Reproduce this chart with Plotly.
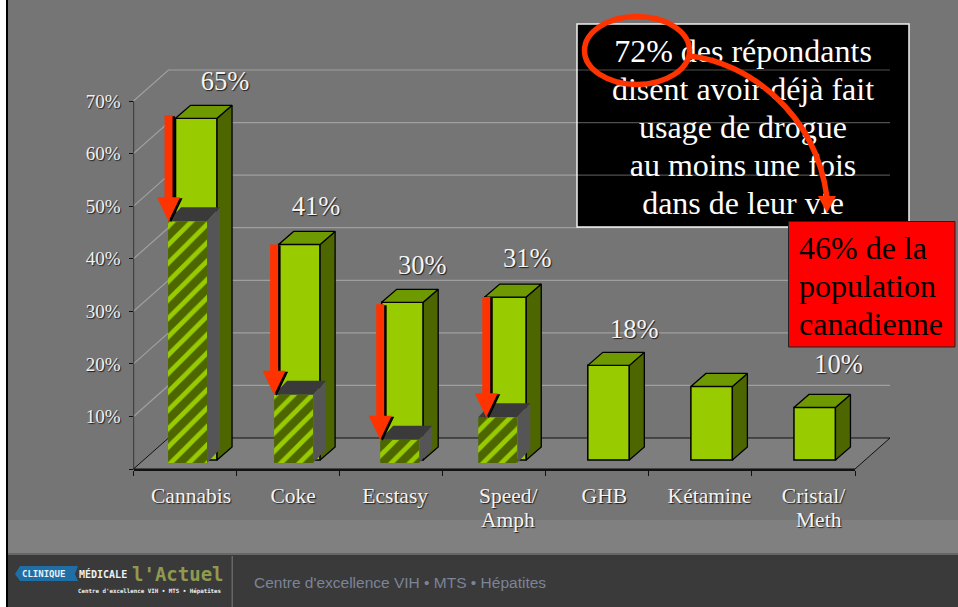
import plotly.graph_objects as go

# ---- data ----
categories = ["Cannabis", "Coke", "Ecstasy", "Speed/Amph", "GHB", "Kétamine", "Cristal/Meth"]
tick_text = ["Cannabis", "Coke", "Ecstasy", "Speed/", "GHB", "Kétamine", "Cristal/"]
second_lines = ["Amph", "Meth"]
lifetime_use = [65, 41, 30, 31, 18, 14, 10]
population_use = [46, 13, 4.4, 8.7]
value_labels = ["65%", "41%", "30%", "31%", "18%", None, "10%"]
y_ticks = [0, 10, 20, 30, 40, 50, 60, 70]
y_tick_text = ["", "10%", "20%", "30%", "40%", "50%", "60%", "70%"]

# ---- layout geometry (pixels of the 958x607 page) ----
W, H = 958, 607
AX_L, AX_R, AX_B, AX_T = 133.5, 855.0, 469.0, 101.0
UX = (AX_R - AX_L) / 7
UY = (AX_B - AX_T) / 70
Y_TOP = 85  # the value axis runs on invisibly above 70 so the top label stays in range
def X(p): return p / W
def Y(p): return 1 - p / H
def dx(p): return p / UX
def dy(p): return p / UY

SERIF = "Liberation Serif"
SHADOW = "1px 1px 1px rgba(0,0,0,0.75)"
RED = "#ff3300"
n = len(categories)
xs = list(range(n))

fig = go.Figure()

def poly(xv, yv, fill, line=None, lw=1.2):
    fig.add_trace(go.Scatter(
        x=xv, y=yv, mode="lines", fill="toself", fillcolor=fill, hoverinfo="skip",
        line=dict(color=line or fill, width=lw if line else 0), showlegend=False, cliponaxis=False))

XL, XR = -0.5, 6.5

# green bars
G_BASE = dy(9)
G_OFF, G_W = dx(-9.5), dx(41.5)
G_DX, G_DY = dx(15), dy(13)
fig.add_trace(go.Bar(
    x=xs, y=lifetime_use, base=G_BASE, offset=G_OFF, width=G_W, name="Répondants",
    marker=dict(color="#99cc00", line=dict(color="#000000", width=1.5)),
    hoverinfo="skip", showlegend=False, cliponaxis=False))

# hatched bars (population)
H_BASE = dy(6)
H_OFFS_PX = [-17, -14, -11, -16]
H_W = dx(39)
fig.add_trace(go.Bar(
    x=xs[:4], y=population_use, base=H_BASE, offset=[dx(o) for o in H_OFFS_PX], width=H_W,
    name="Population",
    marker=dict(color="#4d6600", line=dict(width=0),
                pattern=dict(shape="/", size=13, solidity=0.36, fgcolor="#99cc00", bgcolor="#4d6600", fillmode="replace")),
    hoverinfo="skip", showlegend=False, cliponaxis=False))

# value axis line, stopping at the top tick
fig.add_trace(go.Scatter(x=[XL, XL], y=[y_ticks[0], y_ticks[-1]], mode="lines",
                         line=dict(color="#111111", width=1.2), hoverinfo="skip",
                         showlegend=False, cliponaxis=False))

# 3-D faces of the green bars
for i, v in zip(xs, lifetime_use):
    l, r = i + G_OFF, i + G_OFF + G_W
    b, t = G_BASE, G_BASE + v
    poly([r, r + G_DX, r + G_DX, r, r], [b, b + G_DY, t + G_DY, t, b], "#4d6600", "#000000", 1.3)
    poly([l, l + G_DX, r + G_DX, r, l], [t, t + G_DY, t + G_DY, t, t], "#6f9900", "#000000", 1.3)

# 3-D faces of the hatched bars
H_DX, H_DY = dx(13), dy(14)
for i, v, o in zip(xs, population_use, H_OFFS_PX):
    l, r = i + dx(o), i + dx(o) + H_W
    b, t = H_BASE, H_BASE + v
    poly([r, r + H_DX, r + H_DX, r, r], [b, b + H_DY, t + H_DY, t, b], "#555555")
    poly([l, l + H_DX, r + H_DX, r, l], [t, t + H_DY, t + H_DY, t, t], "#3a3a3a")

# red arrows: from green top to hatched top
ARROW_OFF_PX = [-16.5, -14, -11, -8]
ARROW_TOP_PX = [3, 0, -2, 0]
HEAD_H, HEAD_W, SHAFT_W = dy(24), dx(11.5), dx(4)
for i, top, tip, o, tp in zip(xs, lifetime_use, population_use, ARROW_OFF_PX, ARROW_TOP_PX):
    c = i + dx(o)
    t, b, h = G_BASE + top + dy(tp), H_BASE + tip, H_BASE + tip + HEAD_H
    sx, sy = dx(2.5), dy(-1)
    ax = [c - SHAFT_W, c + SHAFT_W, c + SHAFT_W, c + HEAD_W, c, c - HEAD_W, c - SHAFT_W, c - SHAFT_W]
    ay = [t, t, h, h, b, h, h, t]
    poly([a + sx for a in ax], [a + sy for a in ay], "#000000")
    poly(ax, ay, RED)

# value labels
LBL_DX = [40, 28, 31, 33, 37, 0, 35]
LBL_DY = [35, 36, 35, 37, 34, 0, 41]
shown = [i for i in xs if value_labels[i]]
fig.add_trace(go.Scatter(
    x=[i + dx(LBL_DX[i]) for i in shown],
    y=[G_BASE + lifetime_use[i] + dy(LBL_DY[i]) for i in shown],
    text=[value_labels[i] for i in shown], mode="text", textposition="middle center",
    textfont=dict(family=SERIF, size=26.5, color="#f4f4f4", shadow=SHADOW),
    hoverinfo="skip", showlegend=False, cliponaxis=False))

# ---- decoration ----
shapes = []
def rect(x0, y0, x1, y1, fill, layer="below", line=None, lw=0):
    shapes.append(dict(type="rect", xref="paper", yref="paper", x0=X(x0), x1=X(x1), y0=Y(y0), y1=Y(y1),
                       fillcolor=fill, layer=layer, line=dict(color=line or fill, width=lw)))

def path(template, pts):
    return template.format(*[f"{X(v) if k % 2 == 0 else Y(v):.5f}" for k, v in enumerate(pts)])

def pathshape(template, pts, fill="rgba(0,0,0,0)", layer="above", line=None, lw=0):
    shapes.append(dict(type="path", xref="paper", yref="paper", layer=layer,
                       path=path(template, pts), fillcolor=fill,
                       line=dict(color=line or fill, width=lw)))

rect(0, 0, 6, H, "#ffffff")
rect(6, 0, 8, H, "#000000")
rect(8, 520, W, 553, "#808080")
rect(8, 553, W, 555, "#666666")
rect(8, 555, W, H, "#3a3a3a")
rect(231.5, 556, 233, H, "#666666")

# black text box, under the gridlines
rect(577, 24, 909, 227, "#000000", "below", "#f0f0f0", 1.5)

# floor and wall gridlines, under the bars (translucent so they dim over the black box)
WX_PX, WY_PX = 35, 31
pathshape("M {} {} L {} {} L {} {} L {} {} Z",
          [AX_L, AX_B, AX_L + WX_PX, AX_B - WY_PX, AX_R + WX_PX, AX_B - WY_PX, AX_R, AX_B],
          "#7e7e7e", "below", "#111111", 1)
for v in y_ticks[1:]:
    yp = AX_B - v * UY
    pathshape("M {} {} L {} {} L {} {}",
              [AX_L, yp, AX_L + WX_PX, yp - WY_PX, AX_R + WX_PX, yp - WY_PX],
              "rgba(0,0,0,0)", "below", "rgba(255,255,255,0.31)", 1.2)

# box lines as shape labels, so the ellipse and curve can sit above them
box_lines = ["72% des répondants", "disent avoir déjà fait", "usage de drogue", "au moins une fois", "dans de leur vie"]
BOX_Y = [48, 86, 124, 162, 200]
for s, yy in zip(box_lines, BOX_Y):
    shapes.append(dict(type="rect", xref="paper", yref="paper", x0=X(580), x1=X(906), y0=Y(yy + 15), y1=Y(yy - 15),
                       layer="above", line=dict(width=0), fillcolor="rgba(0,0,0,0)",
                       label=dict(text=s, textposition="middle center", padding=0,
                                  font=dict(family=SERIF, size=32, color="#ffffff"))))

# red box
rect(788.5, 221.5, 955, 347, "#ff0000", "above", "#222222", 1)
# ellipse
shapes.append(dict(type="circle", xref="paper", yref="paper", x0=X(584.5), x1=X(689.5), y0=Y(84.5), y1=Y(16.5),
                   layer="above", line=dict(color=RED, width=5.5), fillcolor="rgba(0,0,0,0)"))
# curved arrow
pathshape("M {} {} C {} {} {} {} {} {}", [690, 56, 745, 62, 815, 110, 827, 197], line=RED, lw=5.5)
pathshape("M {} {} L {} {} L {} {} Z", [818, 196, 836, 196, 827, 213], RED)
# logo band
pathshape("M {} {} L {} {} L {} {} L {} {} L {} {} L {} {} Z",
          [20, 566, 78, 566, 75, 574, 78, 581, 20, 581, 15, 574], "#1f6ea6", "below")

def note(text, x, y, size, color, family=SERIF, anchor="left", bold=False, shadow=None):
    if bold:
        text = "<b>" + text + "</b>"
    font = dict(family=family, size=size, color=color)
    if shadow:
        font["shadow"] = shadow
    return dict(text=text, x=X(x), y=Y(y), xref="paper", yref="paper", xanchor=anchor, yanchor="middle",
                showarrow=False, font=font, align="left", borderpad=0)

MONO = "DejaVu Sans Mono"
annotations = [
    note("46% de la", 798, 248, 32, "#000000"),
    note("population", 798, 286, 32, "#000000"),
    note("canadienne", 798, 324, 32, "#000000"),
    note("Centre d'excellence VIH • MTS • Hépatites", 253, 582, 15.5, "#7b8499", "Liberation Sans"),
    note("CLINIQUE", 21, 574, 9, "#e8f0f6", MONO, bold=True),
    note("MÉDICALE", 78, 574, 10, "#f0f0f0", MONO, bold=True),
    note("l'Actuel", 131, 574, 19, "#8f9a50", MONO, bold=True),
    note("Centre d'excellence VIH • MTS • Hépatites", 77, 591, 5.8, "#f0f0f0", MONO, bold=True),
    note(second_lines[0], 508, 520, 21.5, "#f4f4f4", anchor="center", shadow=SHADOW),
    note(second_lines[1], 819, 520, 21.5, "#f4f4f4", anchor="center", shadow=SHADOW),
]

# category labels sit a little to the right of each slot
TICK_SHIFT_PX = [6, 5, 4, 14, 7, 9, 10]
fig.update_layout(
    width=W, height=H, margin=dict(l=0, r=0, t=0, b=0, pad=0, autoexpand=False), autosize=False,
    paper_bgcolor="#757575", plot_bgcolor="rgba(0,0,0,0)", showlegend=False,
    barmode="overlay", shapes=shapes, annotations=annotations,
    xaxis=dict(domain=[X(AX_L), X(AX_R)], range=[XL, XR], showgrid=False, zeroline=False,
               showline=True, linecolor="#111111", linewidth=2,
               tickmode="array", tickvals=[i + dx(s) for i, s in zip(xs, TICK_SHIFT_PX)], ticktext=tick_text,
               ticks="", tickangle=0, ticklabelstandoff=6,
               tickfont=dict(family=SERIF, size=21.5, color="#f4f4f4", shadow=SHADOW),
               minor=dict(tickmode="array", tickvals=[XL + k for k in range(n + 1)], ticks="outside",
                          ticklen=5, tickwidth=1, tickcolor="#111111", showgrid=False)),
    yaxis=dict(domain=[Y(AX_B), Y(AX_B - Y_TOP * UY)], range=[0, Y_TOP], showgrid=False, zeroline=False,
               showline=False,
               tickmode="array", tickvals=y_ticks, ticktext=y_tick_text, ticks="outside",
               ticklen=4, tickwidth=1, tickcolor="#111111", ticklabelstandoff=4,
               tickfont=dict(family=SERIF, size=19, color="#f0f0f0", shadow=SHADOW)),
)

fig.write_html("out.html", config={"displayModeBar": False},
               post_script="document.body.style.margin='0';document.body.style.background='#757575';")
